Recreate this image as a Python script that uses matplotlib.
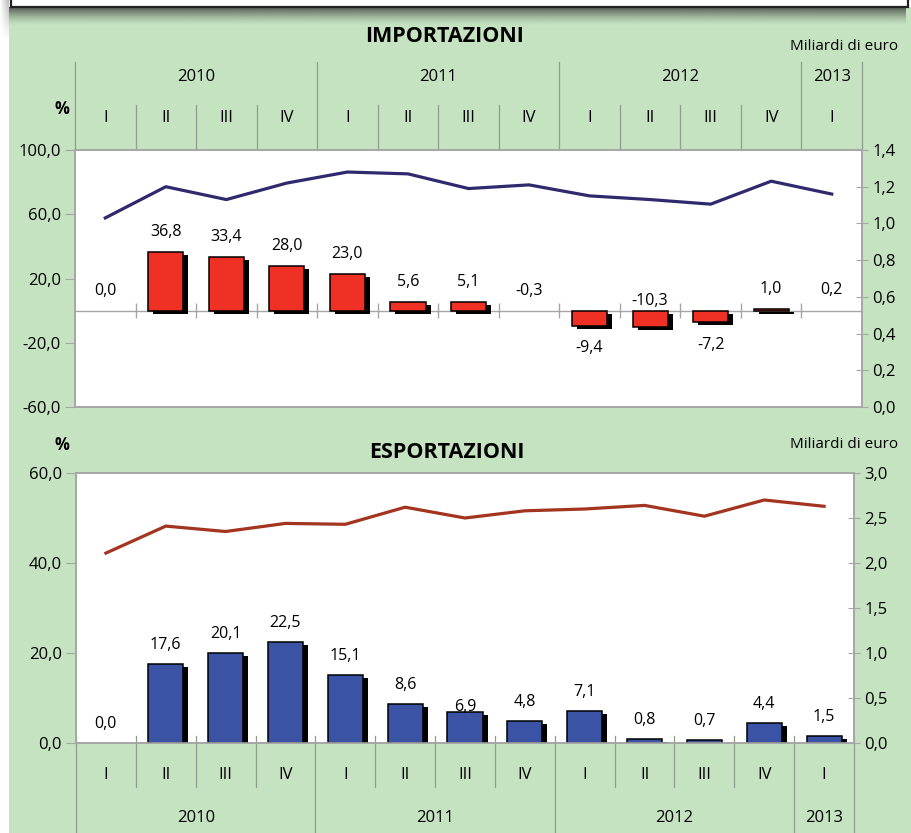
import numpy as np
import matplotlib
matplotlib.use("Agg")
import matplotlib.pyplot as plt
import matplotlib.patheffects as pe
from matplotlib.patches import Rectangle

plt.rcParams['font.family'] = ['Open Sans', 'DejaVu Sans']

# data
quarters = ['I', 'II', 'III', 'IV', 'I', 'II', 'III', 'IV', 'I', 'II', 'III', 'IV', 'I']
years = ['2010', '2011', '2012', '2013']
year_spans = [4, 4, 4, 1]

imp_pct = [0.0, 36.8, 33.4, 28.0, 23.0, 5.6, 5.1, -0.3, -9.4, -10.3, -7.2, 1.0, 0.2]
imp_val = [1.03, 1.20, 1.13, 1.22, 1.28, 1.27, 1.19, 1.21, 1.15, 1.13, 1.105, 1.23, 1.16]
exp_pct = [0.0, 17.6, 20.1, 22.5, 15.1, 8.6, 6.9, 4.8, 7.1, 0.8, 0.7, 4.4, 1.5]
exp_val = [2.11, 2.41, 2.35, 2.44, 2.43, 2.62, 2.50, 2.58, 2.60, 2.64, 2.52, 2.70, 2.63]

GREEN = '#c5e2c1'
GRID = '#a6a6a6'
SEP = '#8e9e8c'
W, H = 911, 833
FS = 12


def fmt(v):
    return f"{v:.1f}".replace('.', ',')


def px_box(x0, y0, x1, y1):
    # pixel box (top-left origin) -> figure fraction rect
    return [x0 / W, 1 - y1 / H, (x1 - x0) / W, (y1 - y0) / H]


fig = plt.figure(figsize=(W / 100, H / 100), dpi=100, facecolor='white')

# green background and the boxed strip at the top
fig.patches.append(Rectangle((9 / W, 0), 1, 1 - 7 / H, transform=fig.transFigure,
                             fc=GREEN, ec='none', zorder=-10))
sh = fig.add_axes(px_box(9, 7, 906, 26), zorder=-5)
grad = np.zeros((40, 2, 4))
grad[..., :3] = 0.2
grad[..., 3] = np.linspace(0.85, 0, 40)[:, None] ** 1.5
sh.imshow(grad, aspect='auto', extent=[0, 1, 0, 1])
sh.axis('off')
sh2 = fig.add_axes(px_box(0, 0, 9, 40), zorder=-5)
g2 = np.zeros((20, 20, 4))
g2[..., :3] = 0.4
g2[..., 3] = np.linspace(0, 0.45, 20)[None, :] * np.linspace(1, 0, 20)[:, None]
sh2.imshow(g2, aspect='auto', extent=[0, 1, 0, 1])
sh2.axis('off')
fig.patches.append(Rectangle((11 / W, 1 - 7 / H), 897 / W, 20 / H, transform=fig.transFigure,
                             fc='white', ec='#222222', lw=1.6, zorder=5))

x = np.arange(len(quarters))
shadow = [pe.SimplePatchShadow(offset=(3.6, -2.2), shadow_rgbFace='black', alpha=1.0), pe.Normal()]


def style_axes(ax, ax2):
    ax.set_facecolor('white')
    ax2.patch.set_visible(False)
    for a in (ax, ax2):
        for s in a.spines.values():
            s.set_color(GRID)
            s.set_linewidth(1.2)
    ax.set_xlim(-0.5, len(quarters) - 0.5)
    ax.set_xticks([])
    ax.tick_params(axis='y', direction='out', length=7, color=GRID, labelsize=FS, pad=3)
    ax2.tick_params(axis='y', direction='inout', length=9, color=GRID, labelsize=FS, pad=3)


def draw_bars(ax, vals, width, color):
    bars = ax.bar(x, vals, width=width, color=color, edgecolor='black', lw=1.1, zorder=3)
    for b, v in zip(bars, vals):
        if abs(v) < 0.5:
            # too small to show in the original
            b.set_visible(False)
        b.set_path_effects(shadow)


# ---------------- IMPORTAZIONI ----------------
ax = fig.add_axes(px_box(75, 150, 862, 407))
ax2 = ax.twinx()
style_axes(ax, ax2)
ax.set_ylim(-60, 100)
ax.set_yticks([-60, -20, 20, 60, 100])
ax.set_yticklabels([fmt(v) for v in [-60, -20, 20, 60, 100]])
ax2.set_ylim(0, 1.4)
ax2.set_yticks(np.arange(0, 1.41, 0.2))
ax2.set_yticklabels([fmt(v) for v in np.arange(0, 1.41, 0.2)])

ax.axhline(0, color=GRID, lw=1, zorder=1)
ax.vlines(x[:-1] + 0.5, -4.5, 4.5, color=GRID, lw=1, zorder=1)
draw_bars(ax, imp_pct, 0.58, '#ee3124')
ax2.plot(x, imp_val, color='#2f2a6e', lw=2.3, zorder=4)

for i, v in enumerate(imp_pct):
    if i == 9:
        anchor, dy = 0, 7
    elif v >= -1:
        anchor, dy = max(v, 0), 14.4
    else:
        anchor, dy = v, -16.2
    ax.annotate(fmt(v), (i, anchor), xytext=(0, dy), textcoords='offset points',
                ha='center', va='center', fontsize=11.5, zorder=6)

# header with quarters and years above the plot
xt = ax.get_xaxis_transform()
bounds = np.arange(len(quarters) + 1) - 0.5
year_bounds = np.concatenate([[0], np.cumsum(year_spans)]) - 0.5
for b in bounds:
    top = 1.342 if b in year_bounds else 1.175
    ax.plot([b, b], [1.0, top], transform=xt, color=SEP, lw=0.9, clip_on=False)
for i, q in enumerate(quarters):
    ax.text(i, 1.125, q, transform=xt, ha='center', va='center', fontsize=FS)
for k, yr in enumerate(years):
    ax.text((year_bounds[k] + year_bounds[k + 1]) / 2, 1.284, yr, transform=xt,
            ha='center', va='center', fontsize=FS)

fig.text(445 / W, 1 - 37 / H, 'IMPORTAZIONI', ha='center', va='center',
         fontsize=15.5, fontweight='bold')
fig.text(898 / W, 1 - 47 / H, 'Miliardi di euro', ha='right', va='center', fontsize=11)
fig.text(62 / W, 1 - 109 / H, '%', ha='center', va='center', fontsize=12, fontweight='bold')

# ---------------- ESPORTAZIONI ----------------
bx = fig.add_axes(px_box(76, 473, 854, 743))
bx2 = bx.twinx()
style_axes(bx, bx2)
bx.set_ylim(0, 60)
bx.set_yticks([0, 20, 40, 60])
bx.set_yticklabels([fmt(v) for v in [0, 20, 40, 60]])
bx2.set_ylim(0, 3.0)
bx2.set_yticks(np.arange(0, 3.01, 0.5))
bx2.set_yticklabels([fmt(v) for v in np.arange(0, 3.01, 0.5)])

draw_bars(bx, exp_pct, 0.585, '#3a53a4')
bx2.plot(x, exp_val, color='#a3341f', lw=2.3, zorder=4)

for i, v in enumerate(exp_pct):
    dy = 3.6 if i == 6 else 13.7
    bx.annotate(fmt(v), (i, v), xytext=(0, dy), textcoords='offset points',
                ha='center', va='center', fontsize=11.5, zorder=6)

xt = bx.get_xaxis_transform()
for b in bounds:
    bot = -0.333 if b in year_bounds else -0.163
    bx.plot([b, b], [0.025, bot], transform=xt, color=SEP, lw=0.9, clip_on=False)
for i, q in enumerate(quarters):
    bx.text(i, -0.1185, q, transform=xt, ha='center', va='center', fontsize=FS)
for k, yr in enumerate(years):
    bx.text((year_bounds[k] + year_bounds[k + 1]) / 2, -0.278, yr, transform=xt,
            ha='center', va='center', fontsize=FS)

fig.text(447 / W, 1 - 452 / H, 'ESPORTAZIONI', ha='center', va='center',
         fontsize=15.5, fontweight='bold')
fig.text(898 / W, 1 - 445 / H, 'Miliardi di euro', ha='right', va='center', fontsize=11)
fig.text(62 / W, 1 - 445 / H, '%', ha='center', va='center', fontsize=12, fontweight='bold')

fig.savefig('out.png', dpi=100, facecolor=fig.get_facecolor())
